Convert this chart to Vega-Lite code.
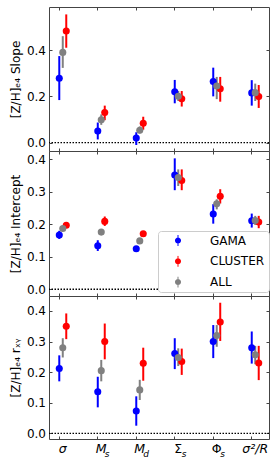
{
  "$schema": "https://vega.github.io/schema/vega-lite/v6.json",
  "padding": {"left": 8, "top": 6, "right": 4, "bottom": 0},
  "spacing": 0,
  "bounds": "flush",
  "datasets": {
    "main": [
      {"panel": "slope", "cat": "σ", "sample": "GAMA", "val": 0.278, "lo": 0.184, "hi": 0.374},
      {"panel": "slope", "cat": "σ", "sample": "CLUSTER", "val": 0.482, "lo": 0.41, "hi": 0.554},
      {"panel": "slope", "cat": "σ", "sample": "ALL", "val": 0.39, "lo": 0.323, "hi": 0.46},
      {"panel": "slope", "cat": "Ms", "sample": "GAMA", "val": 0.05, "lo": 0.014, "hi": 0.087},
      {"panel": "slope", "cat": "Ms", "sample": "CLUSTER", "val": 0.13, "lo": 0.097, "hi": 0.16},
      {"panel": "slope", "cat": "Ms", "sample": "ALL", "val": 0.099, "lo": 0.077, "hi": 0.122},
      {"panel": "slope", "cat": "Md", "sample": "GAMA", "val": 0.02, "lo": -0.01, "hi": 0.045},
      {"panel": "slope", "cat": "Md", "sample": "CLUSTER", "val": 0.084, "lo": 0.056, "hi": 0.112},
      {"panel": "slope", "cat": "Md", "sample": "ALL", "val": 0.054, "lo": 0.04, "hi": 0.07},
      {"panel": "slope", "cat": "Σs", "sample": "GAMA", "val": 0.22, "lo": 0.17, "hi": 0.271},
      {"panel": "slope", "cat": "Σs", "sample": "CLUSTER", "val": 0.19, "lo": 0.156, "hi": 0.223},
      {"panel": "slope", "cat": "Σs", "sample": "ALL", "val": 0.2, "lo": 0.18, "hi": 0.223},
      {"panel": "slope", "cat": "Φs", "sample": "GAMA", "val": 0.264, "lo": 0.2, "hi": 0.324},
      {"panel": "slope", "cat": "Φs", "sample": "CLUSTER", "val": 0.233, "lo": 0.177, "hi": 0.284},
      {"panel": "slope", "cat": "Φs", "sample": "ALL", "val": 0.245, "lo": 0.188, "hi": 0.284},
      {"panel": "slope", "cat": "σ²/R", "sample": "GAMA", "val": 0.215, "lo": 0.16, "hi": 0.27},
      {"panel": "slope", "cat": "σ²/R", "sample": "CLUSTER", "val": 0.199, "lo": 0.15, "hi": 0.249},
      {"panel": "slope", "cat": "σ²/R", "sample": "ALL", "val": 0.216, "lo": 0.18, "hi": 0.255},

      {"panel": "intercept", "cat": "σ", "sample": "GAMA", "val": 0.167, "lo": 0.155, "hi": 0.18},
      {"panel": "intercept", "cat": "σ", "sample": "CLUSTER", "val": 0.197, "lo": 0.19, "hi": 0.205},
      {"panel": "intercept", "cat": "σ", "sample": "ALL", "val": 0.187, "lo": 0.179, "hi": 0.195},
      {"panel": "intercept", "cat": "Ms", "sample": "GAMA", "val": 0.134, "lo": 0.118, "hi": 0.151},
      {"panel": "intercept", "cat": "Ms", "sample": "CLUSTER", "val": 0.209, "lo": 0.195, "hi": 0.224},
      {"panel": "intercept", "cat": "Ms", "sample": "ALL", "val": 0.176, "lo": 0.17, "hi": 0.182},
      {"panel": "intercept", "cat": "Md", "sample": "GAMA", "val": 0.125, "lo": 0.118, "hi": 0.132},
      {"panel": "intercept", "cat": "Md", "sample": "CLUSTER", "val": 0.171, "lo": 0.165, "hi": 0.177},
      {"panel": "intercept", "cat": "Md", "sample": "ALL", "val": 0.149, "lo": 0.142, "hi": 0.156},
      {"panel": "intercept", "cat": "Σs", "sample": "GAMA", "val": 0.352, "lo": 0.305, "hi": 0.403},
      {"panel": "intercept", "cat": "Σs", "sample": "CLUSTER", "val": 0.335, "lo": 0.305, "hi": 0.369},
      {"panel": "intercept", "cat": "Σs", "sample": "ALL", "val": 0.344, "lo": 0.318, "hi": 0.369},
      {"panel": "intercept", "cat": "Φs", "sample": "GAMA", "val": 0.232, "lo": 0.202, "hi": 0.262},
      {"panel": "intercept", "cat": "Φs", "sample": "CLUSTER", "val": 0.286, "lo": 0.264, "hi": 0.308},
      {"panel": "intercept", "cat": "Φs", "sample": "ALL", "val": 0.263, "lo": 0.246, "hi": 0.277},
      {"panel": "intercept", "cat": "σ²/R", "sample": "GAMA", "val": 0.211, "lo": 0.19, "hi": 0.233},
      {"panel": "intercept", "cat": "σ²/R", "sample": "CLUSTER", "val": 0.207, "lo": 0.188, "hi": 0.226},
      {"panel": "intercept", "cat": "σ²/R", "sample": "ALL", "val": 0.212, "lo": 0.198, "hi": 0.226},

      {"panel": "rxy", "cat": "σ", "sample": "GAMA", "val": 0.212, "lo": 0.17, "hi": 0.255},
      {"panel": "rxy", "cat": "σ", "sample": "CLUSTER", "val": 0.35, "lo": 0.308, "hi": 0.392},
      {"panel": "rxy", "cat": "σ", "sample": "ALL", "val": 0.28, "lo": 0.248, "hi": 0.311},
      {"panel": "rxy", "cat": "Ms", "sample": "GAMA", "val": 0.136, "lo": 0.085, "hi": 0.185},
      {"panel": "rxy", "cat": "Ms", "sample": "CLUSTER", "val": 0.3, "lo": 0.242, "hi": 0.359},
      {"panel": "rxy", "cat": "Ms", "sample": "ALL", "val": 0.205, "lo": 0.17, "hi": 0.24},
      {"panel": "rxy", "cat": "Md", "sample": "GAMA", "val": 0.073, "lo": 0.025, "hi": 0.121},
      {"panel": "rxy", "cat": "Md", "sample": "CLUSTER", "val": 0.229, "lo": 0.172, "hi": 0.28},
      {"panel": "rxy", "cat": "Md", "sample": "ALL", "val": 0.142, "lo": 0.109, "hi": 0.175},
      {"panel": "rxy", "cat": "Σs", "sample": "GAMA", "val": 0.261, "lo": 0.21, "hi": 0.311},
      {"panel": "rxy", "cat": "Σs", "sample": "CLUSTER", "val": 0.235, "lo": 0.191, "hi": 0.277},
      {"panel": "rxy", "cat": "Σs", "sample": "ALL", "val": 0.248, "lo": 0.22, "hi": 0.278},
      {"panel": "rxy", "cat": "Φs", "sample": "GAMA", "val": 0.3, "lo": 0.246, "hi": 0.354},
      {"panel": "rxy", "cat": "Φs", "sample": "CLUSTER", "val": 0.364, "lo": 0.302, "hi": 0.427},
      {"panel": "rxy", "cat": "Φs", "sample": "ALL", "val": 0.32, "lo": 0.283, "hi": 0.354},
      {"panel": "rxy", "cat": "σ²/R", "sample": "GAMA", "val": 0.28, "lo": 0.228, "hi": 0.333},
      {"panel": "rxy", "cat": "σ²/R", "sample": "CLUSTER", "val": 0.23, "lo": 0.174, "hi": 0.286},
      {"panel": "rxy", "cat": "σ²/R", "sample": "ALL", "val": 0.257, "lo": 0.226, "hi": 0.286}
    ],
    "subs": [
      {"cat": "Ms", "sub": "s"},
      {"cat": "Md", "sub": "d"},
      {"cat": "Σs", "sub": "s"},
      {"cat": "Φs", "sub": "s"}
    ],
    "zero": [{"v": 0}]
  },
  "vconcat": [
    {
      "width": 220, "height": 144,
      "data": {"name": "main"},
      "transform": [{"filter": "datum.panel === 'slope'"}],
      "layer": [
        {
          "data": {"name": "zero"},
          "transform": [],
          "mark": {"type": "rule", "strokeDash": [1.5, 1.5], "color": "black", "strokeWidth": 1.4},
          "encoding": {
            "y": {"field": "v", "type": "quantitative", "scale": {"domain": [-0.036, 0.586], "nice": false, "zero": false},
                  "axis": {"orient": "left", "values": [0, 0.2, 0.4], "format": ".1f", "title": "[Z/H]ₑ₄ Slope"}}
          }
        },
        {
          "mark": {"type": "rule", "strokeWidth": 2},
          "encoding": {
            "x": {"field": "cat", "type": "nominal", "sort": ["σ", "Ms", "Md", "Σs", "Φs", "σ²/R"],
                  "scale": {"paddingInner": 0.8187, "paddingOuter": 0.267},
                  "axis": {"orient": "top", "labels": false, "bandPosition": 0, "title": null}},
            "xOffset": {"field": "sample", "type": "nominal", "sort": ["GAMA", "ALL", "CLUSTER"], "scale": {"type": "point", "padding": 0}},
            "y": {"field": "lo", "type": "quantitative", "scale": {"domain": [-0.036, 0.586], "nice": false, "zero": false},
                  "axis": {"orient": "right", "labels": false, "values": [0, 0.2, 0.4], "title": null}},
            "y2": {"field": "hi"},
            "color": {"field": "sample", "type": "nominal", "scale": {"domain": ["GAMA", "CLUSTER", "ALL"], "range": ["#0000ff", "#ff0000", "#808080"]}, "legend": null}
          }
        },
        {
          "mark": {"type": "point", "filled": true, "size": 50, "opacity": 1},
          "encoding": {
            "x": {"field": "cat", "type": "nominal", "sort": ["σ", "Ms", "Md", "Σs", "Φs", "σ²/R"],
                  "scale": {"paddingInner": 0.8187, "paddingOuter": 0.267},
                  "axis": {"orient": "bottom", "labels": false, "bandPosition": 0, "title": null}},
            "xOffset": {"field": "sample", "type": "nominal", "sort": ["GAMA", "ALL", "CLUSTER"], "scale": {"type": "point", "padding": 0}},
            "y": {"field": "val", "type": "quantitative", "scale": {"domain": [-0.036, 0.586], "nice": false, "zero": false}, "axis": null},
            "color": {"field": "sample", "type": "nominal", "scale": {"domain": ["GAMA", "CLUSTER", "ALL"], "range": ["#0000ff", "#ff0000", "#808080"]}, "legend": null}
          }
        }
      ],
      "resolve": {"axis": {"x": "independent", "y": "independent"}}
    },
    {
      "width": 220, "height": 145,
      "data": {"name": "main"},
      "transform": [{"filter": "datum.panel === 'intercept'"}],
      "layer": [
        {
          "data": {"name": "zero"},
          "transform": [],
          "mark": {"type": "rule", "strokeDash": [1.5, 1.5], "color": "black", "strokeWidth": 1.4},
          "encoding": {
            "y": {"field": "v", "type": "quantitative", "scale": {"domain": [-0.0206, 0.4256], "nice": false, "zero": false},
                  "axis": {"orient": "left", "values": [0, 0.1, 0.2, 0.3, 0.4], "format": ".1f", "title": "[Z/H]ₑ₄ Intercept"}}
          }
        },
        {
          "mark": {"type": "rule", "strokeWidth": 2},
          "encoding": {
            "x": {"field": "cat", "type": "nominal", "sort": ["σ", "Ms", "Md", "Σs", "Φs", "σ²/R"],
                  "scale": {"paddingInner": 0.8187, "paddingOuter": 0.267},
                  "axis": {"orient": "top", "labels": false, "bandPosition": 0, "title": null}},
            "xOffset": {"field": "sample", "type": "nominal", "sort": ["GAMA", "ALL", "CLUSTER"], "scale": {"type": "point", "padding": 0}},
            "y": {"field": "lo", "type": "quantitative", "scale": {"domain": [-0.0206, 0.4256], "nice": false, "zero": false},
                  "axis": {"orient": "right", "labels": false, "values": [0, 0.1, 0.2, 0.3, 0.4], "title": null}},
            "y2": {"field": "hi"},
            "color": {"field": "sample", "type": "nominal", "scale": {"domain": ["GAMA", "CLUSTER", "ALL"], "range": ["#0000ff", "#ff0000", "#808080"]},
                      "legend": {"title": null, "orient": "none", "legendX": 109, "legendY": 80, "symbolType": "M-0.55,0A0.55,0.55,0,1,1,0.55,0A0.55,0.55,0,1,1,-0.55,0Z M-0.09,-1L0.09,-1L0.09,1L-0.09,1Z"}}
          }
        },
        {
          "mark": {"type": "point", "filled": true, "size": 50, "opacity": 1},
          "encoding": {
            "x": {"field": "cat", "type": "nominal", "sort": ["σ", "Ms", "Md", "Σs", "Φs", "σ²/R"],
                  "scale": {"paddingInner": 0.8187, "paddingOuter": 0.267},
                  "axis": {"orient": "bottom", "labels": false, "bandPosition": 0, "title": null}},
            "xOffset": {"field": "sample", "type": "nominal", "sort": ["GAMA", "ALL", "CLUSTER"], "scale": {"type": "point", "padding": 0}},
            "y": {"field": "val", "type": "quantitative", "scale": {"domain": [-0.0206, 0.4256], "nice": false, "zero": false}, "axis": null},
            "color": {"field": "sample", "type": "nominal", "scale": {"domain": ["GAMA", "CLUSTER", "ALL"], "range": ["#0000ff", "#ff0000", "#808080"]},
                      "legend": {"title": null, "orient": "none", "legendX": 109, "legendY": 80, "symbolType": "M-0.55,0A0.55,0.55,0,1,1,0.55,0A0.55,0.55,0,1,1,-0.55,0Z M-0.09,-1L0.09,-1L0.09,1L-0.09,1Z"}}
          }
        }
      ],
      "resolve": {"axis": {"x": "independent", "y": "independent"}}
    },
    {
      "width": 220, "height": 143,
      "data": {"name": "main"},
      "transform": [{"filter": "datum.panel === 'rxy'"}],
      "layer": [
        {
          "data": {"name": "zero"},
          "transform": [],
          "mark": {"type": "rule", "strokeDash": [1.5, 1.5], "color": "black", "strokeWidth": 1.4},
          "encoding": {
            "y": {"field": "v", "type": "quantitative", "scale": {"domain": [-0.0185, 0.449], "nice": false, "zero": false},
                  "axis": {"orient": "left", "values": [0, 0.1, 0.2, 0.3, 0.4], "format": ".1f", "title": "[Z/H]ₑ₄ rₓᵧ"}}
          }
        },
        {
          "mark": {"type": "rule", "strokeWidth": 2},
          "encoding": {
            "x": {"field": "cat", "type": "nominal", "sort": ["σ", "Ms", "Md", "Σs", "Φs", "σ²/R"],
                  "scale": {"paddingInner": 0.8187, "paddingOuter": 0.267},
                  "axis": {"orient": "top", "labels": false, "bandPosition": 0, "title": null}},
            "xOffset": {"field": "sample", "type": "nominal", "sort": ["GAMA", "ALL", "CLUSTER"], "scale": {"type": "point", "padding": 0}},
            "y": {"field": "lo", "type": "quantitative", "scale": {"domain": [-0.0185, 0.449], "nice": false, "zero": false},
                  "axis": {"orient": "right", "labels": false, "values": [0, 0.1, 0.2, 0.3, 0.4], "title": null}},
            "y2": {"field": "hi"},
            "color": {"field": "sample", "type": "nominal", "scale": {"domain": ["GAMA", "CLUSTER", "ALL"], "range": ["#0000ff", "#ff0000", "#808080"]}, "legend": null}
          }
        },
        {
          "mark": {"type": "point", "filled": true, "size": 50, "opacity": 1},
          "encoding": {
            "x": {"field": "cat", "type": "nominal", "sort": ["σ", "Ms", "Md", "Σs", "Φs", "σ²/R"],
                  "scale": {"paddingInner": 0.8187, "paddingOuter": 0.267},
                  "axis": {"orient": "bottom", "labels": true, "bandPosition": 0, "title": null, "labelAngle": 0,
                           "labelExpr": "datum.value === 'Ms' || datum.value === 'Md' ? 'M' : datum.value === 'Σs' ? 'Σ' : datum.value === 'Φs' ? 'Φ' : datum.value",
                           "labelFontStyle": {"condition": {"test": "datum.value === 'Σs' || datum.value === 'Φs'", "value": "normal"}, "value": "italic"},
                           "labelFontSize": 12.5}},
            "xOffset": {"field": "sample", "type": "nominal", "sort": ["GAMA", "ALL", "CLUSTER"], "scale": {"type": "point", "padding": 0}},
            "y": {"field": "val", "type": "quantitative", "scale": {"domain": [-0.0185, 0.449], "nice": false, "zero": false}, "axis": null},
            "color": {"field": "sample", "type": "nominal", "scale": {"domain": ["GAMA", "CLUSTER", "ALL"], "range": ["#0000ff", "#ff0000", "#808080"]}, "legend": null}
          }
        },
        {
          "data": {"name": "subs"},
          "transform": [],
          "mark": {"type": "text", "fontSize": 9, "fontStyle": "italic", "font": "DejaVu Sans", "align": "left", "baseline": "alphabetic", "dx": 7, "color": "black"},
          "encoding": {
            "x": {"field": "cat", "type": "nominal", "bandPosition": 0, "sort": ["σ", "Ms", "Md", "Σs", "Φs", "σ²/R"],
                  "scale": {"paddingInner": 0.8187, "paddingOuter": 0.267}, "axis": null},
            "y": {"datum": -0.076, "type": "quantitative", "scale": {"domain": [-0.0185, 0.449], "nice": false, "zero": false}, "axis": null},
            "text": {"field": "sub"}
          }
        }
      ],
      "resolve": {"axis": {"x": "independent", "y": "independent"}}
    }
  ],
  "resolve": {"legend": {"color": "independent"}},
  "config": {
    "font": "DejaVu Sans",
    "view": {"stroke": "#444444", "strokeWidth": 1},
    "axis": {
      "labelFont": "DejaVu Sans", "titleFont": "DejaVu Sans", "labelFontSize": 12, "titleFontSize": 12,
      "titleFontWeight": "normal", "labelColor": "black", "titleColor": "black",
      "domain": false, "grid": false, "tickColor": "#444444", "tickSize": -3, "labelPadding": 6.5, "titlePadding": 4
    },
    "legend": {
      "orient": "bottom-right", "offset": 8, "padding": 4, "fillColor": "white", "strokeColor": "#cccccc", "cornerRadius": 3,
      "symbolSize": 121, "symbolOffset": 10, "labelOffset": 26, "labelFontSize": 12, "labelFont": "DejaVu Sans", "labelColor": "black",
      "rowPadding": 7.7, "clipHeight": 11, "symbolStrokeWidth": 0
    }
  }
}
